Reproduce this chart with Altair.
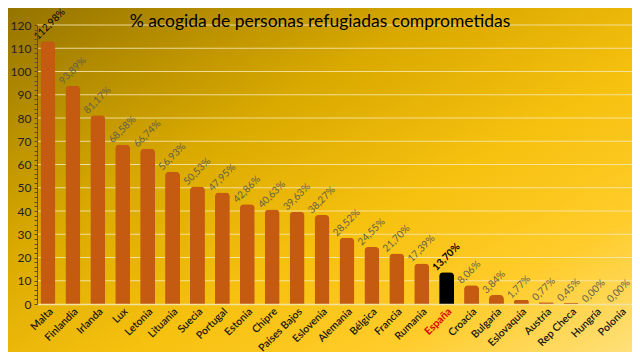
import altair as alt
import pandas as pd

categories = ["Malta", "Finlandia", "Irlanda", "Lux", "Letonia", "Lituania", "Suecia",
              "Portugal", "Estonia", "Chipre", "Países Bajos", "Eslovenia", "Alemania",
              "Bélgica", "Francia", "Rumania", "España", "Croacia", "Bulgaria",
              "Eslovaquia", "Austria", "Rep Checa", "Hungría", "Polonia"]
values = [112.98, 93.89, 81.17, 68.58, 66.74, 56.93, 50.53, 47.95, 42.86, 40.63, 39.63,
          38.27, 28.52, 24.55, 21.70, 17.39, 13.70, 8.06, 3.84, 1.77, 0.77, 0.45, 0.00, 0.00]
grid_values = [10, 20, 30, 40, 50, 60, 70, 80, 90, 100, 110, 120]
title_text = "% acogida de personas refugiadas comprometidas"

W, H = 595, 279
PAD = {"left": 29, "top": 17, "right": 0, "bottom": 48}

df = pd.DataFrame({"pais": categories, "valor": values})
df["etiqueta"] = [f"{v:.2f}".replace(".", ",") + "%" for v in values]
df["col_barra"] = ["#000000" if c == "España" else "#c55a11" for c in categories]
df["col_etq"] = ["#000000" if c in ("Malta", "España") else "#62604a" for c in categories]
gdf = pd.DataFrame({"valor": grid_values})

yscale = alt.Scale(domain=[0, 120], nice=False)
xscale = alt.Scale(paddingInner=0.4, paddingOuter=0.14)

y_axis = alt.Axis(values=list(range(0, 121, 2)),
                  labelExpr="datum.value % 10 === 0 ? datum.label : ''",
                  labelFont="Lato", labelFontSize=12, labelColor="#222222",
                  labelPadding=3, tickSize=3, tickColor="#5a5030",
                  domainColor="#5a5030", grid=False, zindex=1, title=None)
x_axis = alt.Axis(labelAngle=-45, labelFont="Lato", labelFontSize=10.5,
                  labelColor={"condition": {"test": "datum.value == 'España'", "value": "#e00000"},
                              "value": "#151515"},
                  labelFontWeight={"condition": {"test": "datum.value == 'España'", "value": "bold"},
                                   "value": 600},
                  labelPadding=2, ticks=False, domainColor="#f3e3a0",
                  domainWidth=1.5, grid=False, zindex=1, title=None)

Y = alt.Y("valor:Q", scale=yscale, axis=y_axis)
X = alt.X("pais:N", sort=None, scale=xscale, axis=x_axis)

bg = alt.Chart(alt.Data(values=[{}])).mark_rect(
    color=alt.LinearGradient(
        gradient="linear",
        stops=[alt.GradientStop(color="#957400", offset=0),
               alt.GradientStop(color="#d9a900", offset=0.35),
               alt.GradientStop(color="#f7c10f", offset=0.6),
               alt.GradientStop(color="#ffcc2a", offset=0.8),
               alt.GradientStop(color="#ffe07a", offset=1)],
        x1=0, y1=0, x2=1, y2=1)
).encode(
    x=alt.value(-PAD["left"]), x2=alt.value(W + PAD["right"]),
    y=alt.value(-PAD["top"]), y2=alt.value(H + PAD["bottom"])
)

grid = alt.Chart(gdf).mark_rule(
    color="#f6e8b0", strokeWidth=1, opacity=0.85
).encode(y=Y)

bars = alt.Chart(df).mark_bar(cornerRadiusTopLeft=4, cornerRadiusTopRight=4).encode(
    x=X, y=Y,
    color=alt.Color("col_barra:N", scale=None)
)

lab = alt.Chart(df).transform_filter("datum.pais != 'España'").mark_text(
    angle=315, align="left", baseline="alphabetic", font="Lato", fontSize=10,
    xOffset=-10, yOffset=-1
).encode(
    x=X, y=Y,
    text="etiqueta:N",
    color=alt.Color("col_etq:N", scale=None)
)

lab_es = alt.Chart(df).transform_filter("datum.pais == 'España'").mark_text(
    angle=315, align="left", baseline="alphabetic", font="Lato", fontSize=10,
    fontWeight="bold", xOffset=-10, yOffset=-1, color="#000000"
).encode(
    x=X, y=Y,
    text="etiqueta:N"
)

title = alt.Chart(alt.Data(values=[{}])).mark_text(
    text=title_text, font="Lato", fontSize=17.5, color="#000000",
    align="center", baseline="alphabetic"
).encode(x=alt.value(283), y=alt.value(2))

chart = alt.layer(bg, grid, bars, lab, lab_es, title).properties(
    width=W, height=H,
    autosize=alt.AutoSizeParams(type="none"),
    padding=PAD,
    background="#e0b000"
).configure_view(stroke=None)

chart.save("out.html", embed_options={"renderer": "svg", "actions": False})
